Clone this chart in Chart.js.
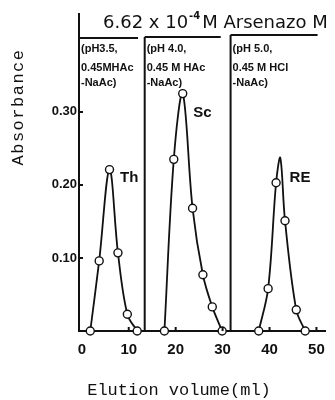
<!DOCTYPE html>
<html>
<head>
<meta charset="utf-8">
<script src="https://cdn.jsdelivr.net/npm/chart.js@4.4.1/dist/chart.umd.min.js"></script>
<style>
  html, body { margin: 0; padding: 0; background: #fff; }
  canvas { display: block; }
</style>
</head>
<body>
<canvas id="chart" width="335" height="400"></canvas>
<script>
// elution volume (ml) and absorbance
var thVol = [1.8, 3.7, 5.9, 7.7, 9.7, 11.8];
var thAbs = [0, 0.096, 0.221, 0.107, 0.023, 0];

var scVol = [17.6, 19.6, 21.5, 23.6, 25.8, 27.8, 29.9];
var scAbs = [0, 0.235, 0.325, 0.168, 0.077, 0.033, 0];

// RE apex has no marker in the original
var reVol = [37.7, 39.7, 41.4, 42.3, 43.3, 45.7, 47.6];
var reAbs = [0, 0.058, 0.203, 0.237, 0.151, 0.029, 0];
var reMarker = [1, 1, 1, 0, 1, 1, 1];

var xTicks = [0, 10, 20, 30, 40, 50];
var yTicks = [0.10, 0.20, 0.30];

var seriesNames = ['Th', 'Sc', 'RE'];
var eluents = [
    ['(pH3.5,', '0.45MHAc', '-NaAc)'],
    ['(pH 4.0,', '0.45 M HAc', '-NaAc)'],
    ['(pH 5.0,', '0.45 M HCl', '-NaAc)']
];
// column changes (ml) where the eluent was switched
var switchVol = [13.4, 31.7];

var ink = '#111';

function points(xs, ys) {
    return xs.map(function (x, i) { return {x: x, y: ys[i]}; });
}

function series(xs, ys, marks) {
    return {
        data: points(xs, ys),
        borderColor: ink,
        borderWidth: 1.8,
        backgroundColor: '#fff',
        pointBorderColor: ink,
        pointBackgroundColor: '#fff',
        pointBorderWidth: 1.4,
        pointRadius: marks ? marks.map(function (m) { return m ? 4 : 0; }) : 4,
        tension: 0.35,
        clip: false,
        fill: false
    };
}

var decorations = {
    id: 'decorations',
    afterDraw: function (chart) {
        var ctx = chart.ctx;
        var xs = chart.scales.x, ys = chart.scales.y;
        var area = chart.chartArea;
        ctx.save();
        ctx.strokeStyle = ink;
        ctx.fillStyle = ink;
        ctx.lineWidth = 2;

        // small inward ticks
        ctx.beginPath();
        yTicks.forEach(function (v) {
            var py = ys.getPixelForValue(v);
            ctx.moveTo(area.left, py);
            ctx.lineTo(area.left + 4, py);
        });
        xTicks.slice(1).forEach(function (v) {
            var px = xs.getPixelForValue(v);
            ctx.moveTo(px, area.bottom);
            ctx.lineTo(px, area.bottom - 4);
        });
        ctx.stroke();

        // eluent boxes
        var lefts = [area.left].concat(switchVol.map(function (v) { return xs.getPixelForValue(v); }));
        var tops = [38, 37, 35];
        var widths = [59, 76, 87];
        ctx.beginPath();
        lefts.forEach(function (lx, i) {
            if (i > 0) {
                ctx.moveTo(lx, tops[i]);
                ctx.lineTo(lx, area.bottom);
            }
            ctx.moveTo(lx, tops[i]);
            ctx.lineTo(lx + widths[i], tops[i]);
        });
        ctx.stroke();

        ctx.font = 'bold 11px "Liberation Sans"';
        ctx.textBaseline = 'middle';
        ctx.textAlign = 'left';
        var lineY = [49, 68, 83];
        eluents.forEach(function (lines, i) {
            lines.forEach(function (t, j) {
                ctx.fillText(t, lefts[i] + 2, lineY[j]);
            });
        });

        // title
        ctx.font = '500 18px "DejaVu Sans"';
        ctx.textBaseline = 'alphabetic';
        var tx = 103, base = 28;
        ctx.fillText('6.62 x 10', tx, base);
        tx += ctx.measureText('6.62 x 10').width + 1;
        ctx.font = 'bold 10px "DejaVu Sans"';
        ctx.fillText('-4', tx, base - 9);
        tx += ctx.measureText('-4').width + 2;
        ctx.font = '500 18px "DejaVu Sans"';
        ctx.fillText('M Arsenazo M', tx, base);

        // series names
        var nameAt = [[10.1, 0.21], [25.7, 0.299], [46.5, 0.21]];
        ctx.font = 'bold 15px "Liberation Sans"';
        ctx.textBaseline = 'middle';
        ctx.textAlign = 'center';
        seriesNames.forEach(function (n, i) {
            ctx.fillText(n, xs.getPixelForValue(nameAt[i][0]), ys.getPixelForValue(nameAt[i][1]));
        });

        // axis titles
        ctx.font = '17px "Liberation Mono"';
        ctx.fillText('Elution volume(ml)', 179, 390);
        ctx.translate(18, 107);
        ctx.rotate(-Math.PI / 2);
        ctx.letterSpacing = '1.5px';
        ctx.fillText('Absorbance', 0, 0);
        ctx.restore();
    }
};

new Chart(document.getElementById('chart'), {
    type: 'line',
    data: {
        datasets: [
            series(thVol, thAbs),
            series(scVol, scAbs),
            series(reVol, reAbs, reMarker)
        ]
    },
    options: {
        responsive: false,
        animation: false,
        layout: { padding: { top: 14, right: 0, bottom: 0, left: 0 } },
        plugins: { legend: { display: false }, tooltip: { enabled: false } },
        scales: {
            x: {
                type: 'linear',
                min: -0.6,
                max: 52,
                afterBuildTicks: function (s) { s.ticks = xTicks.map(function (v) { return {value: v}; }); },
                afterFit: function (s) { s.height = 69; },
                grid: { display: false, drawTicks: false },
                border: { display: true, color: ink, width: 2 },
                ticks: {
                    color: ink,
                    padding: 10,
                    maxRotation: 0,
                    font: { family: '"Liberation Sans"', size: 15, weight: 'bold' }
                }
            },
            y: {
                min: 0,
                max: 0.434,
                afterBuildTicks: function (s) { s.ticks = yTicks.map(function (v) { return {value: v}; }); },
                afterFit: function (s) { s.width = 79; },
                grid: { display: false, drawTicks: false },
                border: { display: true, color: ink, width: 2 },
                ticks: {
                    color: ink,
                    padding: 2,
                    font: { family: '"Liberation Sans"', size: 13, weight: 'bold' },
                    callback: function (v) { return v.toFixed(2); }
                }
            }
        }
    },
    plugins: [decorations]
});
</script>
</body>
</html>
